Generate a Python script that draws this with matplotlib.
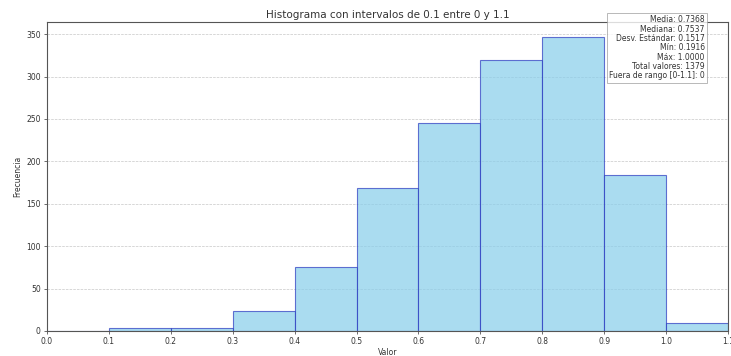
import matplotlib
matplotlib.use("Agg")
import matplotlib.pyplot as plt
import numpy as np

bin_edges = [0.0, 0.1, 0.2, 0.3, 0.4, 0.5, 0.6, 0.7, 0.8, 0.9, 1.0, 1.1]
counts = [0, 3, 4, 23, 75, 169, 245, 319, 347, 184, 10]
xticks = [0.0, 0.1, 0.2, 0.3, 0.4, 0.5, 0.6, 0.7, 0.8, 0.9, 1.0, 1.1]
stats_lines = [
    "Media: 0.7368",
    "Mediana: 0.7537",
    "Desv. Estándar: 0.1517",
    "Mín: 0.1916",
    "Máx: 1.0000",
    "Total valores: 1379",
    "Fuera de rango [0-1.1]: 0",
]

txt_color = "#333333"
fig = plt.figure(figsize=(7.31, 3.56), dpi=100)
ax = fig.add_axes([47/731, 1 - 331/356, 681/731, 309/356])

lefts = np.array(bin_edges[:-1])
widths = np.diff(bin_edges)
ax.bar(lefts, counts, width=widths, align="edge", color="skyblue",
       edgecolor="#2a38c0", alpha=0.7, linewidth=0.8, zorder=2)

ax.set_xlim(0, 1.1)
ax.set_xticks(xticks)
ax.set_xticklabels([f"{t:.1f}" for t in xticks])
ax.tick_params(labelsize=5.5, length=2.5, width=0.6, pad=2, labelcolor=txt_color, color="#555555")
ax.grid(axis="y", linestyle="--", alpha=0.7, linewidth=0.5, zorder=0)
ax.set_axisbelow(True)
for s in ax.spines.values():
    s.set_linewidth(0.8)
    s.set_color("#555555")

ax.set_title("Histograma con intervalos de 0.1 entre 0 y 1.1", fontsize=7.5, pad=3, color=txt_color)
ax.set_xlabel("Valor", fontsize=5.5, labelpad=1, color=txt_color)
ax.set_ylabel("Frecuencia", fontsize=5.5, labelpad=3, color=txt_color)

ax.text(0.966, 1.022, "\n".join(stats_lines), transform=ax.transAxes,
        ha="right", va="top", fontsize=5.5, linespacing=1.05, color=txt_color,
        bbox=dict(boxstyle="square,pad=0.3", facecolor="white", alpha=0.8,
                  edgecolor="#999999", linewidth=0.6), zorder=5)

fig.savefig("out.png", dpi=100)
